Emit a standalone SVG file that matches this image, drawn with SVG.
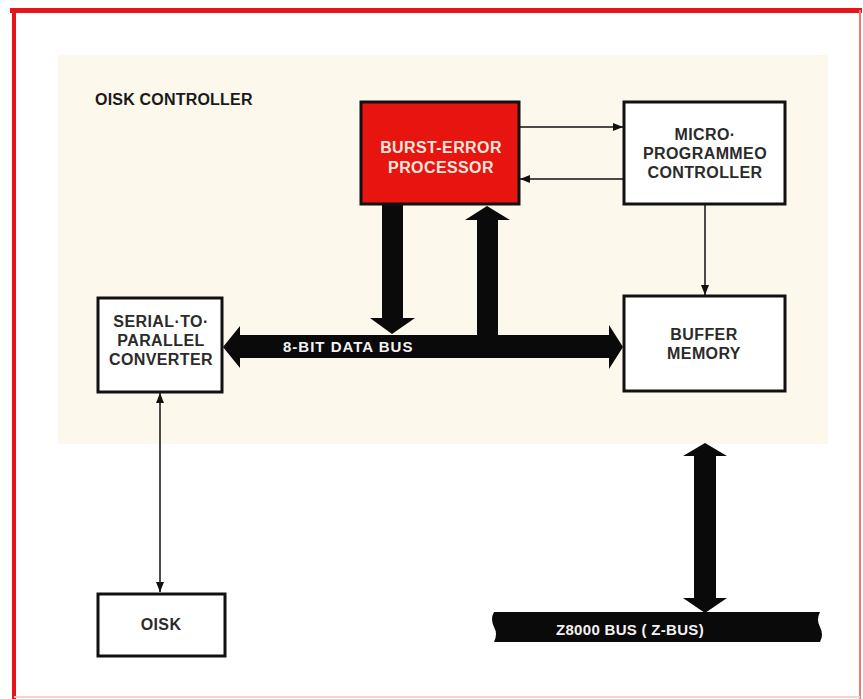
<svg xmlns="http://www.w3.org/2000/svg" width="863" height="699" viewBox="0 0 863 699">
<defs>
<style>
.box{fill:#ffffff;stroke:#111;stroke-width:3}
.lbl{font-family:"Liberation Sans",Arial,sans-serif;font-weight:bold;font-size:16px;letter-spacing:0.4px;text-anchor:middle;fill:#2b2b2b}
.wht{fill:#f6e6de}
.bus{font-family:"Liberation Sans",Arial,sans-serif;font-weight:bold;font-size:15px;letter-spacing:1px;fill:#f2f2f2}
.zbus{letter-spacing:0.3px}
.thin{stroke:#111;stroke-width:1.5;fill:none}
.thick{fill:#0a0a0a}
</style>
<marker id="ah" viewBox="0 0 10 10" refX="10" refY="5" markerWidth="10" markerHeight="10" markerUnits="userSpaceOnUse" orient="auto-start-reverse">
<path d="M0,1 L10,5 L0,9 Z" fill="#111"/>
</marker>
</defs>
<rect x="0" y="0" width="863" height="699" fill="#ffffff"/>
<g id="frame">
<line x1="10" y1="10.5" x2="862" y2="10.5" stroke="#e8141a" stroke-width="5"/>
<line x1="14" y1="8" x2="14" y2="699" stroke="#e8141a" stroke-width="4"/>
<line x1="860" y1="10" x2="860" y2="699" stroke="#f07a70" stroke-width="2"/>
<line x1="14" y1="697" x2="860" y2="697" stroke="#fbd2c8" stroke-width="2"/>
</g>
<rect x="58" y="55" width="770" height="389" fill="#fcf8ec"/>
<text x="95" y="105" font-family="Liberation Sans, Arial, sans-serif" font-weight="bold" font-size="16" letter-spacing="0.2" fill="#1a1a1a">OISK CONTROLLER</text>

<g id="connectors">
<line class="thin" x1="520" y1="127" x2="623" y2="127" marker-end="url(#ah)"/>
<line class="thin" x1="623" y1="179" x2="520" y2="179" marker-end="url(#ah)"/>
<line class="thin" x1="705" y1="204" x2="705" y2="295" marker-end="url(#ah)"/>
<line class="thin" x1="160" y1="393" x2="160" y2="592" marker-start="url(#ah)" marker-end="url(#ah)"/>
<polygon class="thick" points="223,347 240,326 240,335 609,335 609,325 623,347 609,369 609,358 240,358 240,368"/>
<polygon class="thick" points="382,204 403,204 403,318 415,318 392,334 370,318 382,318"/>
<polygon class="thick" points="477,335 477,220 465,220 487,206 510,220 498,220 498,335"/>
<polygon class="thick" points="705,443 727,456 716,456 716,598 727,598 705,613 683,598 694,598 694,456 683,456"/>
<path class="thick" d="M494,612 L820,612 Q816,620 820,627 Q824,635 820,642 L494,642 Q498,634 494,627 Q490,619 494,612 Z"/>
<text class="bus" x="283" y="352">8-BIT DATA BUS</text>
<text class="bus zbus" x="556" y="635">Z8000 BUS ( Z-BUS)</text>
</g>

<g id="burst-error-processor">
<rect x="361" y="102" width="158" height="102" fill="#e8140f" stroke="#111" stroke-width="3"/>
<text class="lbl wht" x="441" y="153">BURST-ERROR</text>
<text class="lbl wht" x="441" y="173">PROCESSOR</text>
</g>
<g id="microprogrammed-controller">
<rect class="box" x="624" y="102" width="161" height="102"/>
<text class="lbl" x="705" y="140">MICRO·</text>
<text class="lbl" x="705" y="159">PROGRAMMEO</text>
<text class="lbl" x="705" y="178">CONTROLLER</text>
</g>
<g id="buffer-memory">
<rect class="box" x="624" y="296" width="161" height="95"/>
<text class="lbl" x="704" y="340">BUFFER</text>
<text class="lbl" x="704" y="359">MEMORY</text>
</g>
<g id="serial-to-parallel">
<rect class="box" x="98" y="298" width="124" height="94"/>
<text class="lbl" x="161" y="327">SERIAL·TO·</text>
<text class="lbl" x="161" y="346">PARALLEL</text>
<text class="lbl" x="161" y="365">CONVERTER</text>
</g>
<g id="disk">
<rect class="box" x="98" y="594" width="127" height="62"/>
<text class="lbl" x="161" y="630">OISK</text>
</g>
</svg>
